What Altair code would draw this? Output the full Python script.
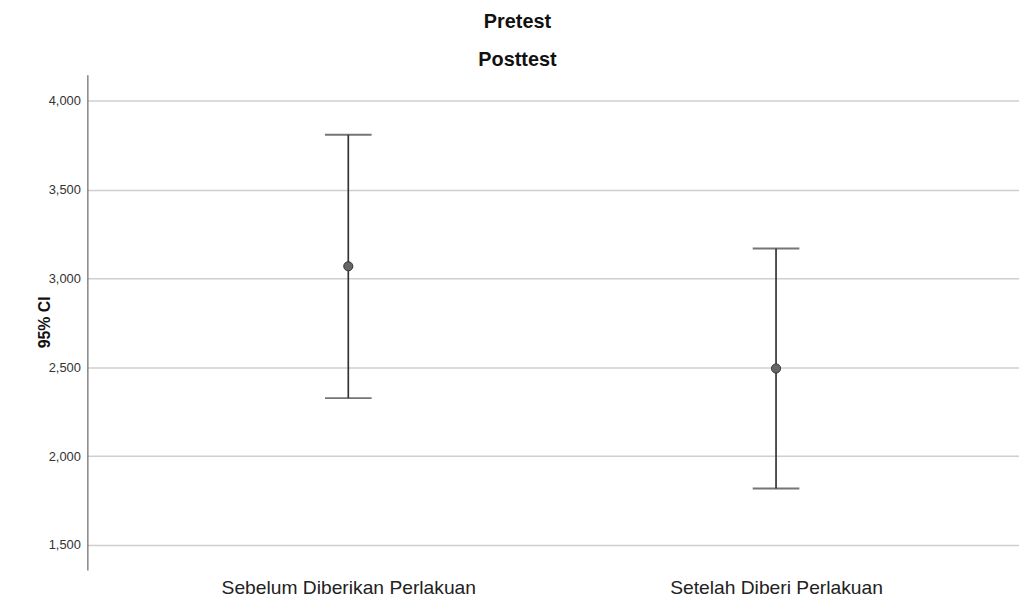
import altair as alt
import pandas as pd

groups = ["Sebelum Diberikan Perlakuan", "Setelah Diberi Perlakuan"]
means = [3.068, 2.493]
lowers = [2.326, 1.818]
uppers = [3.808, 3.168]
y_ticks = [1.5, 2.0, 2.5, 3.0, 3.5, 4.0]

df = pd.DataFrame({"group": groups, "idx": list(range(len(groups))),
                   "mean": means, "lo": lowers, "hi": uppers})

W, H = 939, 499
label_expr = "datum.value == 0 ? '%s' : '%s'" % (groups[0], groups[1])
xscale = alt.Scale(domain=[-0.61, 1.568], nice=False, zero=False)
yscale = alt.Scale(domain=[1.36, 4.145], nice=False, zero=False)
x = alt.X("idx:Q", scale=xscale,
          axis=alt.Axis(title=None, values=[0, 1], labelExpr=label_expr, labelFont="Liberation Sans",
                        labelFontSize=19.4, labelColor="#222", ticks=False, domain=False, labelPadding=9,
                        grid=False, labelLimit=0))
y_axis = alt.Axis(title="95% CI", values=y_ticks, labelExpr="replace(format(datum.value, ',.3f'), '.', ',')",
                  titleFont="Liberation Sans", titleFontSize=16, titleFontWeight="bold", titleColor="#111",
                  titleX=-35, titleY=249, labelFont="Liberation Sans", labelFontSize=13, labelColor="#333",
                  ticks=False, labelPadding=7, domainColor="#666", domainWidth=1.2,
                  gridColor="#cfcfcf", gridWidth=1.5)

base = alt.Chart(df)

rule = base.mark_rule(color="#333", strokeWidth=1.7).encode(
    x=x, y=alt.Y("lo:Q", scale=yscale, axis=y_axis), y2="hi:Q")
cap_lo = base.mark_tick(color="#3a3a3a", size=47, thickness=1.9, orient="horizontal").encode(
    x=x, y=alt.Y("lo:Q", scale=yscale))
cap_hi = base.mark_tick(color="#3a3a3a", size=47, thickness=1.9, orient="horizontal").encode(
    x=x, y=alt.Y("hi:Q", scale=yscale))
pts = base.mark_point(filled=True, shape="circle", size=85, fill="#666", stroke="#333", strokeWidth=1, opacity=1).encode(
    x=x, y=alt.Y("mean:Q", scale=yscale))

chart = alt.layer(rule, cap_lo, cap_hi, pts).properties(
    width=W, height=H,
    title=alt.TitleParams(["Pretest", "Posttest"], font="Liberation Sans", fontSize=20, fontWeight="bold",
                          color="#111", lineHeight=38, anchor="middle", dx=-36, offset=5),
    autosize=alt.AutoSizeParams(type="none"),
    padding={"left": 80, "top": 65, "right": 0, "bottom": 30},
).configure_view(stroke=None)

chart.save("out.html", embed_options={"renderer": "svg", "actions": False})
